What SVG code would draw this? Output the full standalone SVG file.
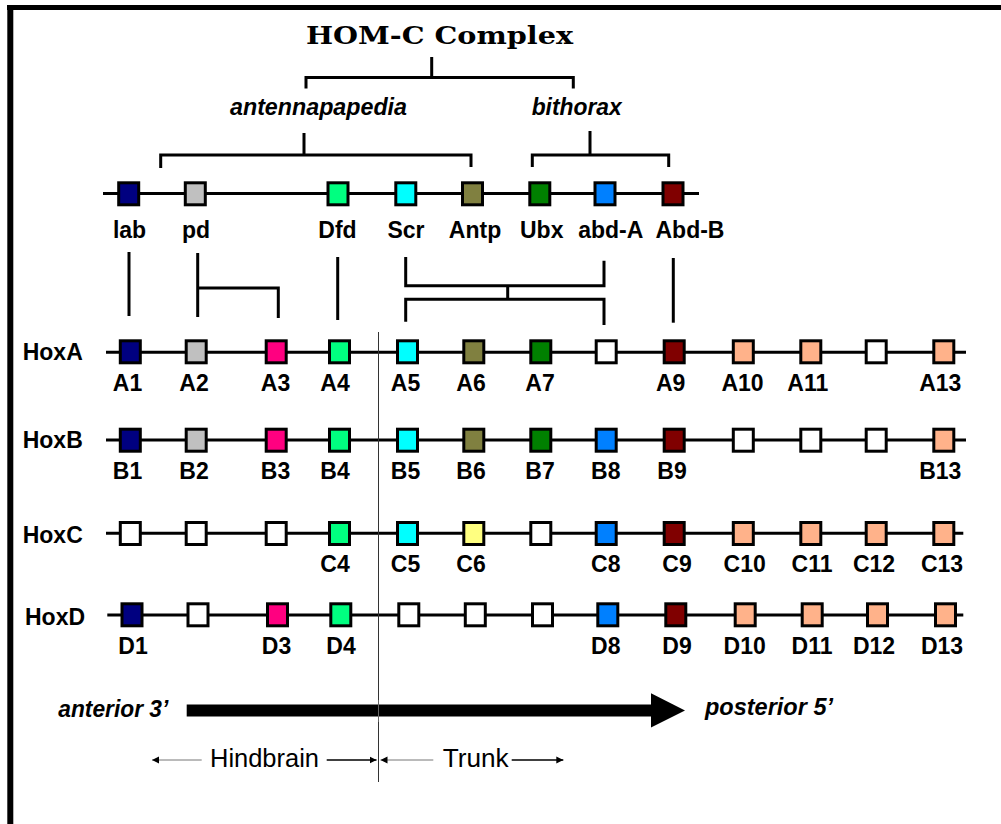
<svg xmlns="http://www.w3.org/2000/svg" width="1001" height="824" viewBox="0 0 1001 824">
<defs>
<style>
.bx{stroke:#000;stroke-width:3}
.ln{fill:none;stroke:#000;stroke-width:3}
.t{font-family:"Liberation Sans",Arial,sans-serif;font-weight:bold;font-size:23px;text-anchor:middle;fill:#000}
.rn{font-family:"Liberation Sans",Arial,sans-serif;font-weight:bold;font-size:23px;fill:#000}
.it{font-family:"Liberation Sans",Arial,sans-serif;font-weight:bold;font-style:italic;font-size:23px;fill:#000}
.rg{font-family:"Liberation Sans",Arial,sans-serif;font-size:25px;fill:#000}
.navy{fill:#000080}.silv{fill:#c0c0c0}.pink{fill:#ff0080}.spr{fill:#00ff80}.cyan{fill:#00ffff}
.oliv{fill:#808040}.grn{fill:#008000}.blue{fill:#0080ff}.mar{fill:#800000}.pch{fill:#ffb28a}.yel{fill:#ffff80}.wh{fill:#fff}
</style>
<marker id="ah" markerWidth="8" markerHeight="8" refX="7" refY="4" orient="auto" markerUnits="userSpaceOnUse">
<path d="M0,0.5 L7,4 L0,7.5 Z" fill="#000"/>
</marker>
</defs>
<rect width="1001" height="824" fill="#fff"/>
<g id="frame">
<line x1="10.3" y1="5" x2="10.3" y2="824" stroke="#000" stroke-width="6"/>
<line x1="7" y1="7.5" x2="1001" y2="7.5" stroke="#000" stroke-width="5"/>
</g>

<g id="title"><text x="306" y="43.5" font-family="'DejaVu Serif','Liberation Serif',serif" font-weight="bold" font-size="25" textLength="267" lengthAdjust="spacingAndGlyphs">HOM-C Complex</text></g>
<g id="antennapedia-label"><text class="it" x="230" y="115" textLength="177" lengthAdjust="spacingAndGlyphs">antennapapedia</text></g>
<g id="bithorax-label"><text class="it" x="531.7" y="115" textLength="90" lengthAdjust="spacingAndGlyphs">bithorax</text></g>

<g id="connectors">
<!-- brackets -->
<path class="ln" d="M431.7,57 V77.5 M306,88.5 V77.5 H573.3 V88.5"/>
<path class="ln" d="M304,133 V155 M160.7,168 V155 H471 V167"/>
<path class="ln" d="M590,131 V155 M532.3,167 V155 H668.7 V167"/>
<!-- chromosome lines -->
<line class="ln" x1="103" y1="193.5" x2="699" y2="193.5"/>
<line class="ln" x1="106" y1="352.3" x2="966" y2="352.3"/>
<line class="ln" x1="106" y1="440" x2="966" y2="440"/>
<line class="ln" x1="106" y1="533.3" x2="963.3" y2="533.3"/>
<line class="ln" x1="107.3" y1="615" x2="963.3" y2="615"/>
<!-- homology links -->
<path class="ln" d="M129,252 V316"/>
<path class="ln" d="M197.7,253 V317 M197.7,288 H278.3 V318"/>
<path class="ln" d="M337.7,257 V320"/>
<path class="ln" d="M405.7,257 V285.7 H604 V260.7 M507.7,285.7 V299.3 M405.7,321.7 V299.3 H604 V325"/>
<path class="ln" d="M673.3,258 V322.7"/>
<!-- divider -->
<line x1="378.5" y1="332" x2="378.5" y2="782" stroke="#333" stroke-width="1"/>
<!-- region arrows -->
<line x1="201.7" y1="760" x2="152" y2="760" stroke="#777" stroke-width="1" marker-end="url(#ah)"/>
<line x1="326.7" y1="760" x2="376.5" y2="760" stroke="#000" stroke-width="1.5" marker-end="url(#ah)"/>
<line x1="433.3" y1="760" x2="380.5" y2="760" stroke="#777" stroke-width="1" marker-end="url(#ah)"/>
<line x1="511.7" y1="760" x2="563.3" y2="760" stroke="#000" stroke-width="1.5" marker-end="url(#ah)"/>
</g>

<g id="axis-arrow"><path d="M186.7,704.5 H651 V693.3 L685,710.5 L651,727.5 V716.5 H186.7 Z" fill="#000"/></g>
<line x1="378.5" y1="700" x2="378.5" y2="722" stroke="#666" stroke-width="1"/>
<g id="anterior"><text class="it" x="58.3" y="716.7" textLength="110" lengthAdjust="spacingAndGlyphs">anterior 3’</text></g>
<g id="posterior"><text class="it" x="705" y="715" textLength="128" lengthAdjust="spacingAndGlyphs">posterior 5’</text></g>
<g id="hindbrain"><text class="rg" x="210" y="766.7" textLength="109" lengthAdjust="spacingAndGlyphs">Hindbrain</text></g>
<g id="trunk"><text class="rg" x="442.7" y="766.7" textLength="66" lengthAdjust="spacingAndGlyphs">Trunk</text></g>

<!-- Drosophila genes -->
<g id="gene-lab"><rect class="bx navy" x="118.7" y="182.8" width="20" height="22"/><text class="t" x="129.5" y="238">lab</text></g>
<g id="gene-pd"><rect class="bx silv" x="185.3" y="182.8" width="20" height="22"/><text class="t" x="196" y="238">pd</text></g>
<g id="gene-Dfd"><rect class="bx spr" x="328" y="182.8" width="20" height="22"/><text class="t" x="337.5" y="238">Dfd</text></g>
<g id="gene-Scr"><rect class="bx cyan" x="395.8" y="182.8" width="20" height="22"/><text class="t" x="406" y="238">Scr</text></g>
<g id="gene-Antp"><rect class="bx oliv" x="462.5" y="182.8" width="20" height="22"/><text class="t" x="475" y="238">Antp</text></g>
<g id="gene-Ubx"><rect class="bx grn" x="529.8" y="182.8" width="20" height="22"/><text class="t" x="541.7" y="238">Ubx</text></g>
<g id="gene-abd-A"><rect class="bx blue" x="595" y="182.8" width="20" height="22"/><text class="t" x="610.8" y="238">abd-A</text></g>
<g id="gene-Abd-B"><rect class="bx mar" x="663" y="182.8" width="20" height="22"/><text class="t" x="690" y="238">Abd-B</text></g>

<!-- row names -->
<g id="row-HoxA"><text class="rn" x="22.7" y="360">HoxA</text></g>
<g id="row-HoxB"><text class="rn" x="22.7" y="448">HoxB</text></g>
<g id="row-HoxC"><text class="rn" x="22.7" y="543">HoxC</text></g>
<g id="row-HoxD"><text class="rn" x="25" y="625">HoxD</text></g>

<!-- HoxA -->
<g id="A1"><rect class="bx navy" x="120.3" y="340.8" width="20" height="22"/><text class="t" x="127.5" y="391">A1</text></g>
<g id="A2"><rect class="bx silv" x="186.2" y="340.8" width="20" height="22"/><text class="t" x="194" y="391">A2</text></g>
<g id="A3"><rect class="bx pink" x="266.2" y="340.8" width="20" height="22"/><text class="t" x="275.5" y="391">A3</text></g>
<g id="A4"><rect class="bx spr" x="329.5" y="340.8" width="20" height="22"/><text class="t" x="335" y="391">A4</text></g>
<g id="A5"><rect class="bx cyan" x="397.5" y="340.8" width="20" height="22"/><text class="t" x="405.5" y="391">A5</text></g>
<g id="A6"><rect class="bx oliv" x="463.8" y="340.8" width="20" height="22"/><text class="t" x="471" y="391">A6</text></g>
<g id="A7"><rect class="bx grn" x="530.8" y="340.8" width="20" height="22"/><text class="t" x="540" y="391">A7</text></g>
<g id="A8"><rect class="bx wh" x="596.2" y="340.8" width="20" height="22"/></g>
<g id="A9"><rect class="bx mar" x="664.2" y="340.8" width="20" height="22"/><text class="t" x="670.7" y="391">A9</text></g>
<g id="A10"><rect class="bx pch" x="733.3" y="340.8" width="20" height="22"/><text class="t" x="742.5" y="391">A10</text></g>
<g id="A11"><rect class="bx pch" x="800.8" y="340.8" width="20" height="22"/><text class="t" x="807.8" y="391">A11</text></g>
<g id="A12"><rect class="bx wh" x="866.2" y="340.8" width="20" height="22"/></g>
<g id="A13"><rect class="bx pch" x="933.8" y="340.8" width="20" height="22"/><text class="t" x="940.3" y="391">A13</text></g>

<!-- HoxB -->
<g id="B1"><rect class="bx navy" x="120.3" y="429.2" width="20" height="22"/><text class="t" x="127.5" y="479">B1</text></g>
<g id="B2"><rect class="bx silv" x="186.2" y="429.2" width="20" height="22"/><text class="t" x="194" y="479">B2</text></g>
<g id="B3"><rect class="bx pink" x="266.2" y="429.2" width="20" height="22"/><text class="t" x="275.5" y="479">B3</text></g>
<g id="B4"><rect class="bx spr" x="329.5" y="429.2" width="20" height="22"/><text class="t" x="335" y="479">B4</text></g>
<g id="B5"><rect class="bx cyan" x="397.5" y="429.2" width="20" height="22"/><text class="t" x="405.5" y="479">B5</text></g>
<g id="B6"><rect class="bx oliv" x="463.8" y="429.2" width="20" height="22"/><text class="t" x="471" y="479">B6</text></g>
<g id="B7"><rect class="bx grn" x="530.8" y="429.2" width="20" height="22"/><text class="t" x="540" y="479">B7</text></g>
<g id="B8"><rect class="bx blue" x="596.2" y="429.2" width="20" height="22"/><text class="t" x="605.8" y="479">B8</text></g>
<g id="B9"><rect class="bx mar" x="664.2" y="429.2" width="20" height="22"/><text class="t" x="672" y="479">B9</text></g>
<g id="B10"><rect class="bx wh" x="733.3" y="429.2" width="20" height="22"/></g>
<g id="B11"><rect class="bx wh" x="800.8" y="429.2" width="20" height="22"/></g>
<g id="B12"><rect class="bx wh" x="866.2" y="429.2" width="20" height="22"/></g>
<g id="B13"><rect class="bx pch" x="933.8" y="429.2" width="20" height="22"/><text class="t" x="940.3" y="479">B13</text></g>

<!-- HoxC -->
<g id="C1"><rect class="bx wh" x="120.3" y="522.5" width="20" height="22"/></g>
<g id="C2"><rect class="bx wh" x="186.2" y="522.5" width="20" height="22"/></g>
<g id="C3"><rect class="bx wh" x="266.2" y="522.5" width="20" height="22"/></g>
<g id="C4"><rect class="bx spr" x="329.5" y="522.5" width="20" height="22"/><text class="t" x="335" y="572">C4</text></g>
<g id="C5"><rect class="bx cyan" x="397.5" y="522.5" width="20" height="22"/><text class="t" x="405.5" y="572">C5</text></g>
<g id="C6"><rect class="bx yel" x="463.8" y="522.5" width="20" height="22"/><text class="t" x="471" y="572">C6</text></g>
<g id="C7"><rect class="bx wh" x="530.8" y="522.5" width="20" height="22"/></g>
<g id="C8"><rect class="bx blue" x="596.2" y="522.5" width="20" height="22"/><text class="t" x="605.8" y="572">C8</text></g>
<g id="C9"><rect class="bx mar" x="664.2" y="522.5" width="20" height="22"/><text class="t" x="677" y="572">C9</text></g>
<g id="C10"><rect class="bx pch" x="733.3" y="522.5" width="20" height="22"/><text class="t" x="744.7" y="572">C10</text></g>
<g id="C11"><rect class="bx pch" x="800.8" y="522.5" width="20" height="22"/><text class="t" x="812" y="572">C11</text></g>
<g id="C12"><rect class="bx pch" x="866.2" y="522.5" width="20" height="22"/><text class="t" x="874" y="572">C12</text></g>
<g id="C13"><rect class="bx pch" x="933.8" y="522.5" width="20" height="22"/><text class="t" x="942" y="572">C13</text></g>

<!-- HoxD -->
<g id="D1"><rect class="bx navy" x="122" y="603.8" width="20" height="22"/><text class="t" x="133" y="654">D1</text></g>
<g id="D2"><rect class="bx wh" x="188" y="603.8" width="20" height="22"/></g>
<g id="D3"><rect class="bx pink" x="267.5" y="603.8" width="20" height="22"/><text class="t" x="276.5" y="654">D3</text></g>
<g id="D4"><rect class="bx spr" x="330.8" y="603.8" width="20" height="22"/><text class="t" x="341" y="654">D4</text></g>
<g id="D5"><rect class="bx wh" x="398.8" y="603.8" width="20" height="22"/></g>
<g id="D6"><rect class="bx wh" x="465.3" y="603.8" width="20" height="22"/></g>
<g id="D7"><rect class="bx wh" x="532.5" y="603.8" width="20" height="22"/></g>
<g id="D8"><rect class="bx blue" x="597.8" y="603.8" width="20" height="22"/><text class="t" x="605.8" y="654">D8</text></g>
<g id="D9"><rect class="bx mar" x="665.8" y="603.8" width="20" height="22"/><text class="t" x="677" y="654">D9</text></g>
<g id="D10"><rect class="bx pch" x="735.2" y="603.8" width="20" height="22"/><text class="t" x="744.7" y="654">D10</text></g>
<g id="D11"><rect class="bx pch" x="802.2" y="603.8" width="20" height="22"/><text class="t" x="812" y="654">D11</text></g>
<g id="D12"><rect class="bx pch" x="867.5" y="603.8" width="20" height="22"/><text class="t" x="874" y="654">D12</text></g>
<g id="D13"><rect class="bx pch" x="935.5" y="603.8" width="20" height="22"/><text class="t" x="942" y="654">D13</text></g>
</svg>
